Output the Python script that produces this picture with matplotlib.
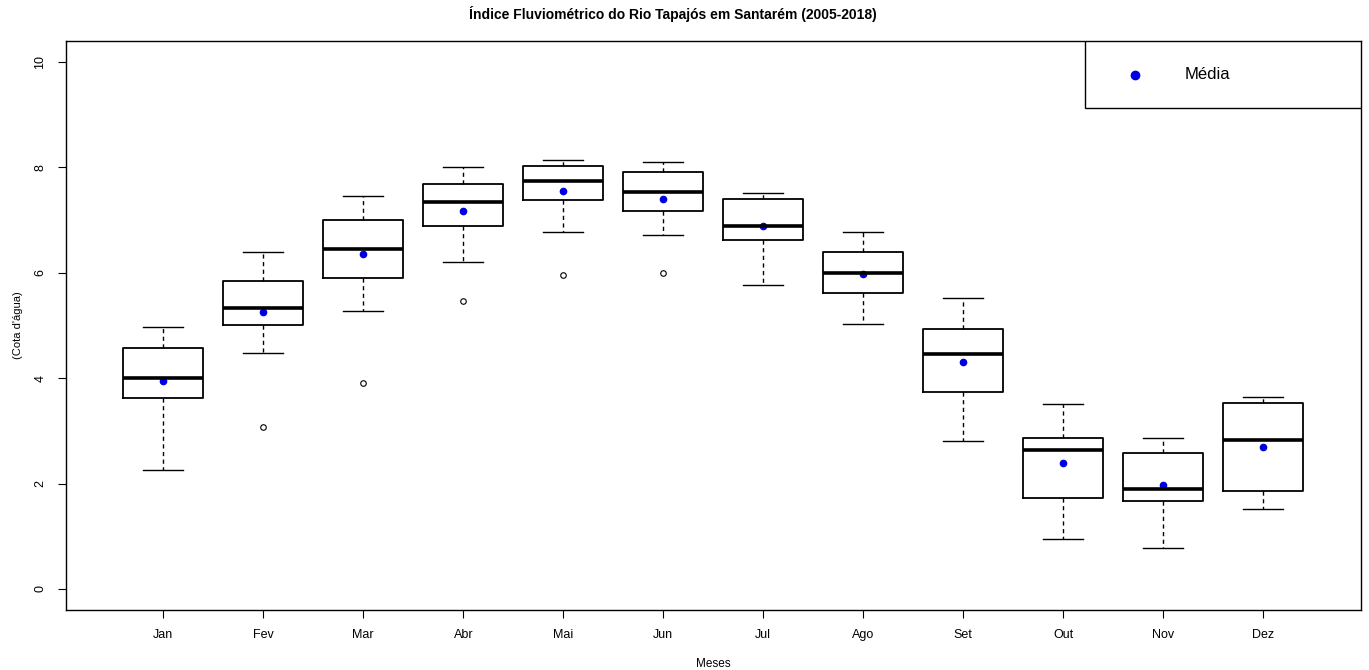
import matplotlib
matplotlib.use("Agg")
import matplotlib.pyplot as plt
from matplotlib.patches import Rectangle

plt.rcParams['font.family'] = ['Liberation Sans', 'DejaVu Sans']

# valores (cota em metros)
meses = ["Jan", "Fev", "Mar", "Abr", "Mai", "Jun", "Jul", "Ago", "Set", "Out", "Nov", "Dez"]
whislo = [2.26, 4.48, 5.28, 6.21, 6.77, 6.72, 5.77, 5.03, 2.80, 0.94, 0.77, 1.51]
q1 = [3.63, 5.00, 5.91, 6.89, 7.38, 7.18, 6.62, 5.62, 3.73, 1.73, 1.66, 1.86]
mediana = [4.01, 5.33, 6.45, 7.34, 7.74, 7.53, 6.88, 6.00, 4.46, 2.63, 1.89, 2.83]
q3 = [4.58, 5.84, 7.00, 7.69, 8.03, 7.91, 7.41, 6.39, 4.93, 2.86, 2.58, 3.52]
whishi = [4.98, 6.40, 7.46, 8.00, 8.15, 8.11, 7.51, 6.77, 5.53, 3.51, 2.86, 3.64]
media = [3.95, 5.26, 6.36, 7.17, 7.55, 7.41, 6.89, 5.98, 4.30, 2.39, 1.97, 2.69]
outliers = [[], [3.08], [3.90], [5.46], [5.96], [5.99], [], [], [], [], [], []]

stats = []
for i, m in enumerate(meses):
    stats.append({"label": m, "whislo": whislo[i], "q1": q1[i], "med": mediana[i],
                  "q3": q3[i], "whishi": whishi[i], "fliers": outliers[i]})

fig = plt.figure(figsize=(13.69, 6.70), dpi=100)
ax = fig.add_axes([66 / 1369, 1 - 610 / 670, 1295 / 1369, 569 / 670])

pos = list(range(1, len(meses) + 1))
ax.bxp(stats, positions=pos, widths=0.8, showfliers=True,
       boxprops=dict(color="black", linewidth=1.3),
       medianprops=dict(color="black", linewidth=2.6),
       whiskerprops=dict(color="black", linewidth=1.0, linestyle=(0, (3, 2.5))),
       capprops=dict(color="black", linewidth=1.0),
       flierprops=dict(marker="o", markersize=4, markerfacecolor="none",
                       markeredgecolor="black", markeredgewidth=0.8),
       capwidths=0.4)

ax.plot(pos, media, "o", color="#0000dd", markersize=4.5, linestyle="none")

ax.set_xlim(0.027, 12.977)
ax.set_ylim(-0.4, 10.4)
ax.set_yticks([0, 2, 4, 6, 8, 10])
ax.set_xticks(pos)
ax.set_xticklabels(meses)
ax.tick_params(axis="both", direction="out", length=6, width=0.8, labelsize=9, color="black")
ax.tick_params(axis="x", pad=8)
ax.tick_params(axis="y", pad=8)
for lb in ax.get_yticklabels():
    lb.set_rotation(90)
    lb.set_va("center")
for sp in ax.spines.values():
    sp.set_linewidth(1.0)
    sp.set_color("black")

ax.set_xlabel("Meses", fontsize=8.5, labelpad=12)
ax.set_ylabel("(Cota d'água)", fontsize=8, labelpad=8)

fig.text(673 / 1369, 1 - 14 / 670, "Índice Fluviométrico do Rio Tapajós em Santarém (2005-2018)",
         ha="center", va="center", fontsize=10, fontweight="bold")

# legenda desenhada como no R
lx0 = (1085 - 66) / 1295
ly0 = (610 - 108) / 569
ax.add_patch(Rectangle((lx0, ly0), 1 - lx0, 1 - ly0, transform=ax.transAxes,
                       facecolor="white", edgecolor="black", linewidth=1.0, zorder=5))
ax.plot([(1135 - 66) / 1295], [(610 - 75) / 569], "o", color="#0000dd", markersize=6,
        transform=ax.transAxes, zorder=6, clip_on=False)
ax.text((1185 - 66) / 1295, (610 - 75) / 569, "Média", transform=ax.transAxes,
        fontsize=12, va="center", ha="left", zorder=6)

fig.savefig("out.png", dpi=100)
